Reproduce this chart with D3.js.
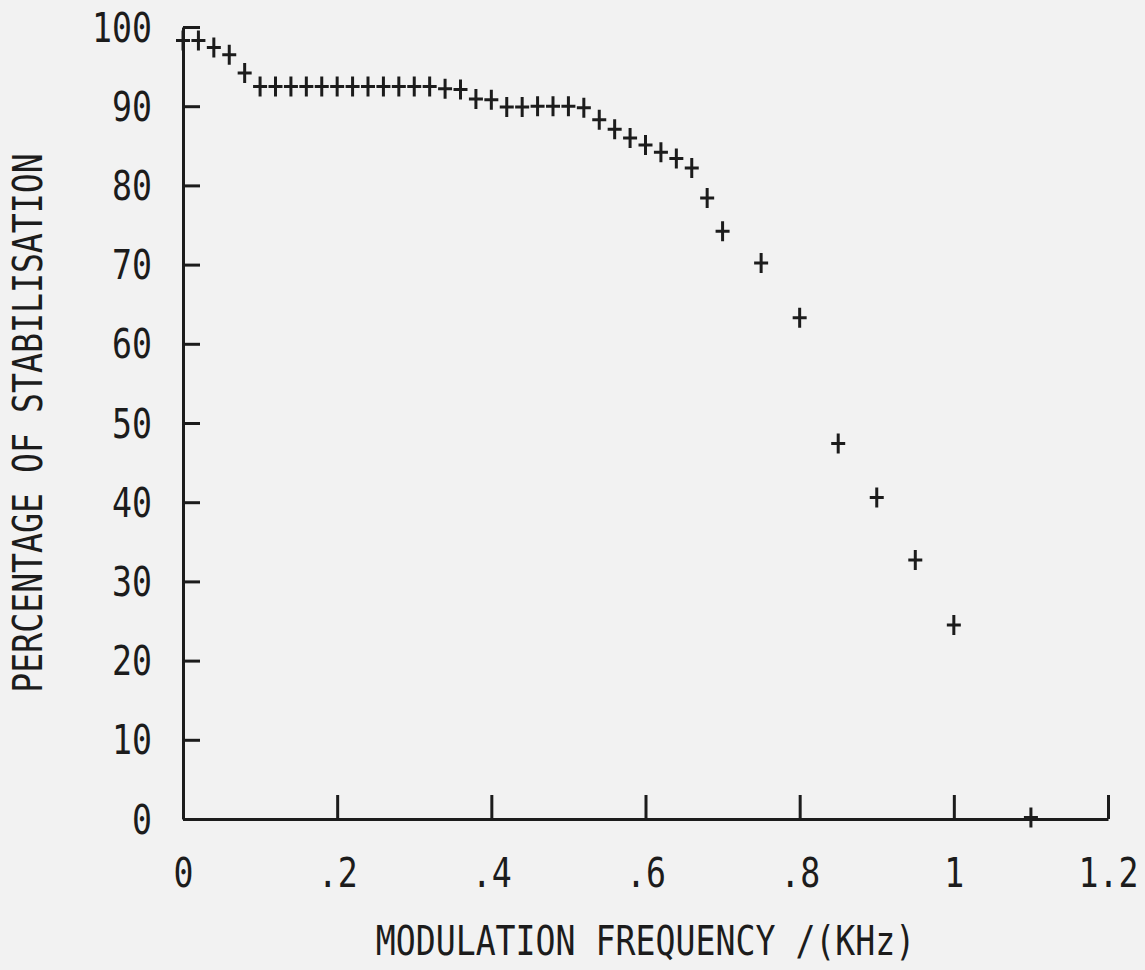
<!DOCTYPE html>
<html>
<head>
<meta charset="utf-8">
<script src="https://cdn.jsdelivr.net/npm/d3@7"></script>
<style>
	body { margin: 0; background: #f2f2f2; }
	svg { display: block; }
	text { font-family: 'DejaVu Sans Mono', 'Liberation Mono', monospace; fill: #1c1c1c; }
</style>
</head>
<body>
<svg id="chart"></svg>
<script>

// Modulation frequency in KHz
const frequency = [
	0, 0.02, 0.04, 0.06, 0.08, 0.10, 0.12, 0.14, 0.16, 0.18,
	0.20, 0.22, 0.24, 0.26, 0.28, 0.30, 0.32, 0.34, 0.36, 0.38,
	0.40, 0.42, 0.44, 0.46, 0.48, 0.50, 0.52, 0.54, 0.56, 0.58,
	0.60, 0.62, 0.64, 0.66, 0.68, 0.70,
	0.75, 0.80, 0.85, 0.90, 0.95, 1.0, 1.1
]

// Percentage of stabilisation
const stabilisation = [
	98.3, 98.3, 97.4, 96.5, 94.2, 92.5, 92.5, 92.5, 92.5, 92.5,
	92.5, 92.5, 92.5, 92.5, 92.5, 92.5, 92.5, 92.2, 92.1, 90.9,
	90.8, 89.9, 89.9, 90.0, 90.0, 90.0, 89.8, 88.3, 87.1, 86.0,
	85.1, 84.2, 83.4, 82.2, 78.4, 74.2,
	70.2, 63.3, 47.4, 40.6, 32.7, 24.5, 0.2
]

const xTicks = [0, 0.2, 0.4, 0.6, 0.8, 1, 1.2]
const xTickLabels = ['0', '.2', '.4', '.6', '.8', '1', '1.2']
const yTicks = [0, 10, 20, 30, 40, 50, 60, 70, 80, 90, 100]
const yTickLabels = ['0', '10', '20', '30', '40', '50', '60', '70', '80', '90', '100']

const xTitle = 'MODULATION FREQUENCY /(KHz)'
const yTitle = 'PERCENTAGE OF STABILISATION'

const width = 1145
const height = 970
const margin = {top: 27, right: 37, bottom: 151, left: 183}
const ink = '#1c1c1c'
const squeeze = 'scale(0.83,1)'   // plotter font is narrower than DejaVu Mono

const svg = d3.select('#chart')
	.attr('width', width)
	.attr('height', height)

// x scale
const x = d3.scaleLinear()
	.domain([0, 1.2])
	.range([margin.left, width - margin.right])

// y scale
const y = d3.scaleLinear()
	.domain([0, 100])
	.range([height - margin.bottom, margin.top])

// x axis, ticks pointing inward
const xAxis = svg.append('g')
	.attr('transform', 'translate(0,' + y(0) + ')')
	.style('color', ink)
	.call(d3.axisBottom(x).tickValues(xTicks).tickFormat((d, i) => xTickLabels[i]).tickSize(-24).tickSizeOuter(0))

xAxis.selectAll('.domain, .tick line').attr('stroke-width', 3)
xAxis.selectAll('.tick text')
	.attr('font-size', 40)
	.attr('y', 68)
	.attr('dy', null)
	.attr('text-anchor', 'middle')
	.attr('transform', squeeze)

// y axis
const yAxis = svg.append('g')
	.attr('transform', 'translate(' + x(0) + ',0)')
	.style('color', ink)
	.call(d3.axisLeft(y).tickValues(yTicks).tickFormat((d, i) => yTickLabels[i]).tickSize(-17).tickSizeOuter(0))

yAxis.selectAll('.domain, .tick line').attr('stroke-width', 3)
yAxis.selectAll('.tick text')
	.attr('font-size', 40)
	.attr('x', -31 / 0.83)
	.attr('y', 14)
	.attr('dy', null)
	.attr('text-anchor', 'end')
	.attr('transform', squeeze)

// axis titles
svg.append('text')
	.attr('font-size', 40)
	.attr('text-anchor', 'middle')
	.attr('transform', 'translate(' + (x(0) + x(1.2)) / 2 + ',955) ' + squeeze)
	.text(xTitle)

svg.append('text')
	.attr('font-size', 40)
	.attr('text-anchor', 'middle')
	.attr('transform', 'translate(42,' + (y(0) + y(100)) / 2 + ') rotate(-90) ' + squeeze)
	.text(yTitle)

// plus markers
const points = frequency.map((f, i) => ({f: f, s: stabilisation[i]}))

svg.append('g')
	.attr('stroke', ink)
	.attr('stroke-width', 3)
	.attr('fill', 'none')
	.selectAll('path')
	.data(points)
	.join('path')
		.attr('d', d => {
			const px = x(d.f), py = y(d.s)
			return 'M' + (px - 7) + ',' + py + 'H' + (px + 7) + 'M' + px + ',' + (py - 10) + 'V' + (py + 10)
		})

</script>
</body>
</html>
